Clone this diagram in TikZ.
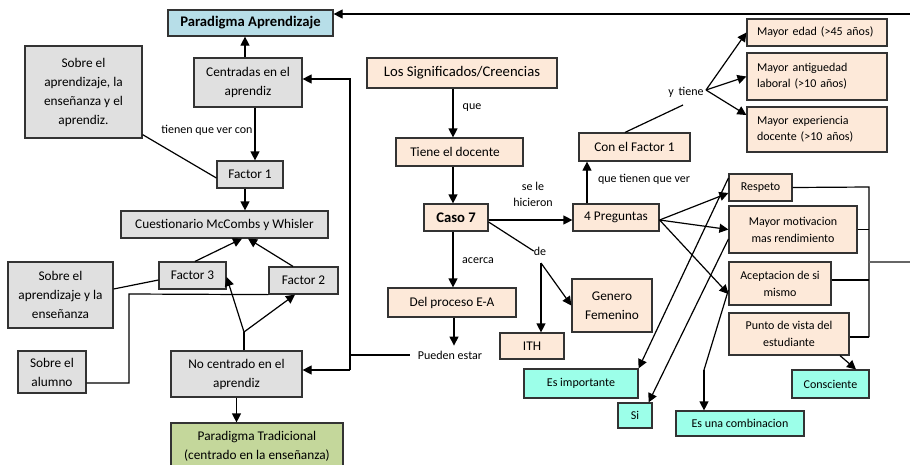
\documentclass[tikz,border=0pt]{standalone}
\usepackage{fontspec}
\setmainfont{Carlito}
\usetikzlibrary{arrows.meta,calc}
\definecolor{bxgray}{HTML}{E0E0E0}
\definecolor{bxpeach}{HTML}{FDE9D9}
\definecolor{bxblue}{HTML}{B7DEE8}
\definecolor{bxgreen}{HTML}{C4D79B}
\definecolor{bxteal}{HTML}{9CFFE9}
\definecolor{edgeclr}{HTML}{333333}
\begin{document}
\begin{tikzpicture}[x=1pt,y=-1pt,
  box/.style={draw=edgeclr, line width=1.2pt, inner sep=0pt, align=center, font=\fontsize{13.3}{19}\selectfont},
  gbox/.style={box, fill=bxgray},
  pbox/.style={box, fill=bxpeach},
  tbox/.style={box, fill=bxteal, font=\fontsize{12}{16}\selectfont},
  sbox/.style={box, fill=bxpeach, font=\fontsize{12}{17}\selectfont},
  lbox/.style={draw=edgeclr, line width=1.2pt, fill=bxpeach, inner xsep=10pt, inner ysep=0pt, text width=120pt, align=left, font=\fontsize{12}{16}\selectfont},
  lbl/.style={inner sep=0pt, font=\fontsize{12}{16}\selectfont},
  arr/.style={line width=1.2pt, -{Triangle[length=9pt,width=9pt]}},
  ln/.style={line width=1.2pt},
]
\fill[white] (0,0) rectangle (910,464);
\useasboundingbox (0,0) rectangle (910,464);

% left part
\node[box, fill=bxblue, font=\fontsize{14.67}{18}\selectfont\bfseries, minimum width=165pt, minimum height=26pt] (paA) at (250.5,23) {Paradigma Aprendizaje};
\node[gbox, minimum width=117pt, minimum height=92pt] (sobre1) at (83.5,92) {Sobre el\\aprendizaje, la\\enseñanza y el\\aprendiz.};
\node[gbox, minimum width=108pt, minimum height=49pt] (centr) at (248,82.5) {Centradas en el\\aprendiz};
\node[gbox, minimum width=66pt, minimum height=27pt] (f1) at (250,174.5) {Factor 1};
\node[gbox, minimum width=207pt, minimum height=27pt] (cuest) at (224.5,224.5) {Cuestionario McCombs y Whisler};
\node[gbox, minimum width=67pt, minimum height=27pt] (f3) at (192.5,275.5) {Factor 3};
\node[gbox, minimum width=69pt, minimum height=27pt] (f2) at (303.5,280.5) {Factor 2};
\node[gbox, minimum width=105pt, minimum height=66pt] (sobre2) at (60.5,295) {Sobre el\\aprendizaje y la\\enseñanza};
\node[gbox, minimum width=68pt, minimum height=42pt] (alumno) at (52,372) {Sobre el\\alumno};
\node[gbox, minimum width=131pt, minimum height=46pt] (nocent) at (236.5,374) {No centrado en el\\aprendiz};
\node[box, fill=bxgreen, minimum width=172pt, minimum height=47pt] (paT) at (257,446.5) {Paradigma Tradicional\\(centrado en la enseñanza)};

% middle
\node[pbox, font=\fontsize{14.67}{18}\selectfont, minimum width=190pt, minimum height=30pt] (sig) at (462,73) {Los Significados/Creencias};
\node[pbox, minimum width=127pt, minimum height=28pt] (tiene) at (459.5,152) {Tiene el docente\hspace*{9pt}};
\node[pbox, font=\fontsize{14.67}{18}\selectfont\bfseries, minimum width=64pt, minimum height=27pt] (caso) at (456,217.5) {Caso 7};
\node[pbox, minimum width=86pt, minimum height=27pt] (preg) at (616,217.5) {4 Preguntas};
\node[pbox, minimum width=128pt, minimum height=29pt] (del) at (452,302.5) {Del proceso E-A};
\node[pbox, minimum width=64pt, minimum height=26pt] (ith) at (532,346) {ITH};
\node[pbox, minimum width=80pt, minimum height=53pt] (gen) at (612,305.5) {Genero\\Femenino};
\node[pbox, minimum width=111pt, minimum height=28pt] (cf1) at (634.5,147) {Con el Factor 1};

% right
\node[lbox, minimum height=27pt] (me) at (817,32.5) {Mayor edad (>45 años)};
\node[lbox, minimum height=47pt] (ma) at (817,76.5) {Mayor antiguedad\\laboral (>10 años)};
\node[lbox, minimum height=45pt] (mx) at (817,129.5) {Mayor experiencia\\docente (>10 años)};
\node[sbox, minimum width=63pt, minimum height=27pt] (resp) at (760.5,187.5) {Respeto};
\node[sbox, minimum width=128pt, minimum height=47pt] (mot) at (793,229.5) {Mayor motivacion\\mas rendimiento};
\node[sbox, minimum width=102pt, minimum height=43pt] (acep) at (780,283.5) {Aceptacion de si\\mismo};
\node[sbox, minimum width=120pt, minimum height=42pt] (punto) at (789,334) {Punto de vista del\\estudiante};
\node[tbox, minimum width=114pt, minimum height=29pt] (esimp) at (581,383.5) {Es importante};
\node[tbox, minimum width=34pt, minimum height=25pt] (si) at (635,415.5) {Si};
\node[tbox, minimum width=128pt, minimum height=25pt] (comb) at (740,423.5) {Es una combinacion};
\node[tbox, minimum width=77pt, minimum height=28pt] (consc) at (830.5,384) {Consciente};

% labels
\node[lbl] (l1) at (207,130) {tienen que ver con};
\node[lbl] (l2) at (472,108) {que};
\node[lbl, align=center, font=\fontsize{12}{16}\selectfont] (l3) at (533,194) {se le\\hicieron};
\node[lbl] (de) at (540,251) {de};
\node[lbl] (l5) at (478,261) {acerca};
\node[lbl] (pe) at (450,355) {Pueden estar};
\node[lbl] (l7) at (644,179) {que tienen que ver};
\node[lbl] (yt) at (686,92) {y\, tiene};

% coordinates
\coordinate (tr) at (910,14);
\coordinate (vtop) at (350,79);
\coordinate (vmid) at (350,355);
\coordinate (vbot) at (350,370);
\coordinate (aj) at (129,294);
\coordinate (ab) at (129,383);
\coordinate (nj) at (244,332);
\coordinate (dj) at (541,263);
\coordinate (yj) at (706,90);
\coordinate (ys) at (683,105);
\coordinate (bt) at (869,187);
\coordinate (bb) at (869,337);
\coordinate (bm) at (869,262);
\coordinate (br) at (910,262);
\coordinate (cj) at (704,370);

% left connectors
\draw[arr] ([xshift=-3pt]centr.north) -- ([xshift=-3pt]centr.north |- paA.south);
\draw[arr] (tr) -- (tr -| paA.east);
\draw[ln] ([xshift=-8pt]pe.west) -- (vmid);
\draw[arr] (vbot) -- (vtop) -- (vtop -| centr.east);
\draw[arr] (vbot) -- (vbot -| nocent.east);
\draw[arr] ([xshift=7pt]centr.south) -- ([xshift=7pt]centr.south |- f1.north);
\draw[ln] ([yshift=4pt]sobre1.south east) -- ([yshift=-3.5pt]f1.west);
\draw[arr] ([xshift=-5pt]f1.south) -- ([xshift=-5pt]f1.south |- cuest.north);
\draw[arr] ([xshift=2.5pt]f3.north) -- ([xshift=17.5pt]cuest.south);
\draw[arr] ([xshift=-10.5pt]f2.north) -- ([xshift=23.5pt]cuest.south);
\draw[ln] ([yshift=6pt]sobre2.east) -- ([yshift=-4.5pt]f3.west);
\draw[ln] ([yshift=-11pt]alumno.east) -- (ab) -- (aj) -- (f2.south west);
\draw[ln] ([xshift=7.5pt]nocent.north) -- (nj);
\draw[arr] (nj) -- ([yshift=-1.5pt]f3.east);
\draw[arr] (nj) -- ([xshift=-8.5pt]f2.south);
\draw[arr] (nocent.south) -- (nocent.south |- paT.north);

% middle connectors
\draw[arr] ([xshift=-9pt]sig.south) -- ([xshift=-9pt]sig.south |- tiene.north);
\draw[arr] ([xshift=-6.5pt]tiene.south) -- ([xshift=-6.5pt]tiene.south |- caso.north);
\draw[arr] ([yshift=-2.5pt]caso.east) -- ([yshift=-2.5pt]caso.east -| preg.west);
\draw[ln] ([yshift=-4.5pt]caso.east) -- (de.west);
\draw[arr] (dj) -- (dj |- ith.north);
\draw[arr] (dj) -- (gen.west);
\draw[arr] ([xshift=-3pt]caso.south) -- ([xshift=-3pt]caso.south |- del.north);
\draw[arr] ([xshift=2pt]del.south) -- ([xshift=2pt,yshift=5pt]del.south |- pe.north);
\draw[arr] ([xshift=-29pt]preg.north) -- ([xshift=-29pt]preg.north |- cf1.south);
\draw[ln] ([xshift=-9.5pt]cf1.north) -- (ys);
\draw[arr] (yj) -- (me.west);
\draw[arr] (yj) -- (ma.west);
\draw[arr] (yj) -- ([yshift=14.5pt]mx.west);

% right connectors
\draw[arr] ([yshift=-2.5pt]preg.east) -- ([yshift=-5.5pt]resp.west);
\draw[arr] ([yshift=-2.5pt]preg.east) -- (mot.west);
\draw[arr] ([yshift=-2.5pt]preg.east) -- ([yshift=-10.5pt]acep.west);
\draw[ln] (resp.east) -- (bt) -- (bb);
\draw[ln] (mot.east) -- (mot.east -| bt);
\draw[ln] ([yshift=3.5pt]acep.east) -- ([yshift=3.5pt]acep.east -| bt);
\draw[ln] ([yshift=-3pt]punto.east) -- ([yshift=-3pt]punto.east -| bt);
\draw[ln, draw=black!60] (bm) -- (br);
\draw[arr] ([yshift=9.5pt]resp.west) -- (esimp.north east);
\draw[arr] ([yshift=-9.5pt]mot.west) -- ([xshift=-4pt]si.north east);
\draw[ln] ([yshift=-6.5pt]acep.west) -- (cj);
\draw[arr] (cj) -- (cj |- comb.north);
\draw[arr] ([xshift=51pt]punto.south) -- ([xshift=25.5pt]consc.north);
\end{tikzpicture}
\end{document}
